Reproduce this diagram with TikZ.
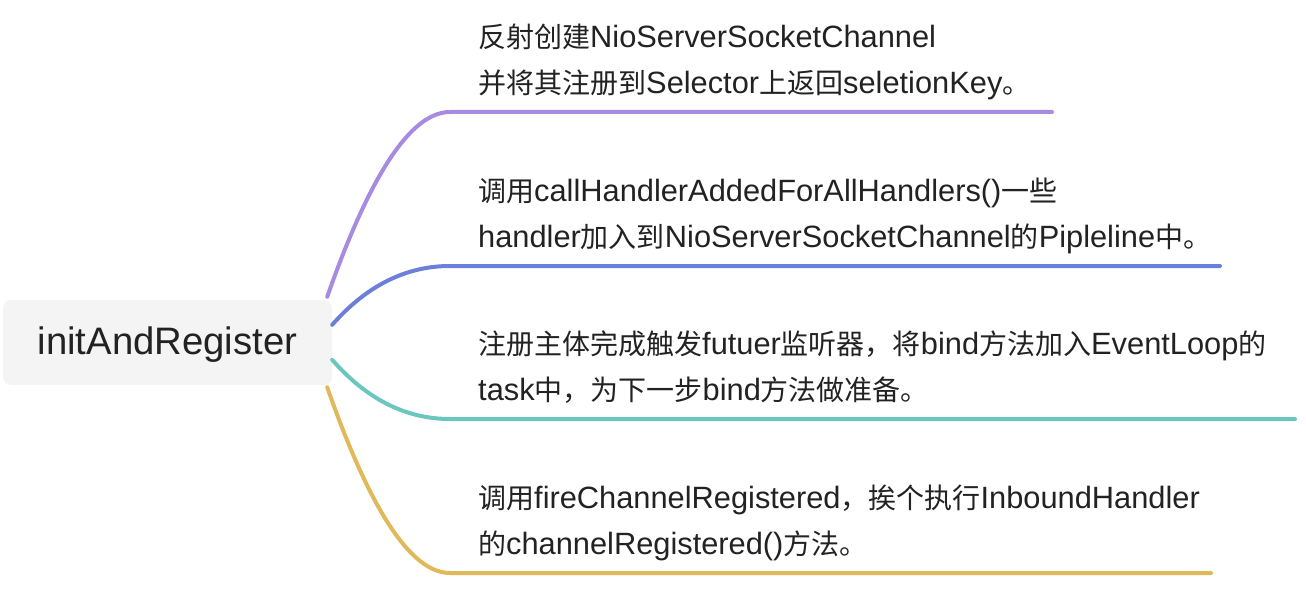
\documentclass[tikz,border=0pt]{standalone}
\usepackage{fontspec}
\setmainfont{Liberation Sans}[Scale=1.1]
\newfontfamily\cjk{Noto Sans CJK SC}
\usetikzlibrary{calc}
\definecolor{cpurple}{RGB}{167,139,224}
\definecolor{cblue}{RGB}{107,127,219}
\definecolor{cteal}{RGB}{108,198,192}
\definecolor{cgold}{RGB}{224,185,90}
\definecolor{rootfill}{RGB}{244,244,244}
\definecolor{txt}{RGB}{34,34,34}
\begin{document}
\begin{tikzpicture}[x=1pt,y=-1pt,
  rootbox/.style={fill=rootfill,rounded corners=8pt,minimum width=329pt,minimum height=85pt,inner sep=0pt},
  roottext/.style={font=\fontsize{34.8}{40}\selectfont,text=txt,inner sep=0pt},
  linetext/.style={font=\fontsize{28}{34}\selectfont,text=txt,inner sep=0pt,anchor=base west},
  branch/.style={line width=4pt,line cap=round}
]
\useasboundingbox (0,0) rectangle (1306,604);
\node[rootbox] (root) at (167.5,342.5) {};
\node[roottext,anchor=base] (roott) at (167.5,354) {initAndRegister};

% branch ends
\coordinate (e1) at (450,112);  \coordinate (f1) at (1052,112);
\coordinate (e2) at (450,266);  \coordinate (f2) at (1220,266);
\coordinate (e3) at (450,419);  \coordinate (f3) at (1295,419);
\coordinate (e4) at (450,573);  \coordinate (f4) at (1211,573);
% start points
\coordinate (s1) at ($(root.north east)+(-5,-3)$);
\coordinate (s2) at ($(root.north east)+(0,25)$);
\coordinate (s3) at ($(root.north east)+(0,60)$);
\coordinate (s4) at ($(root.south east)+(-5,2)$);
% quadratic control points
\coordinate (q1) at (392,112);
\coordinate (q2) at (384,266);
\coordinate (q3) at (384,419);
\coordinate (q4) at (392,573);

\foreach \i/\c in {1/cpurple,2/cblue,3/cteal,4/cgold}{
  \draw[branch,\c] (s\i) .. controls ($(s\i)!2/3!(q\i)$) and ($(e\i)!2/3!(q\i)$) .. (e\i) -- (f\i);
}

\node[linetext] (t1a) at (478,47.5) {{\cjk 反射创建}NioServerSocketChannel};
\node[linetext] (t1b) at (478,93.5) {{\cjk 并将其注册到}Selector{\cjk 上返回}seletionKey{\cjk 。}};
\node[linetext] (t2a) at (478,201.5) {{\cjk 调用}callHandlerAddedForAllHandlers(){\cjk 一些}};
\node[linetext] (t2b) at (478,247.5) {handler{\cjk 加入到}NioServerSocketChannel{\cjk 的}Pipleline{\cjk 中。}};
\node[linetext] (t3a) at (478,354.5) {{\cjk 注册主体完成触发}futuer{\cjk 监听器，将}bind{\cjk 方法加入}EventLoop{\cjk 的}};
\node[linetext] (t3b) at (478,400.5) {task{\cjk 中，为下一步}bind{\cjk 方法做准备。}};
\node[linetext] (t4a) at (478,508.5) {{\cjk 调用}fireChannelRegistered{\cjk ，挨个执行}InboundHandler};
\node[linetext] (t4b) at (478,554.5) {{\cjk 的}channelRegistered(){\cjk 方法。}};
\end{tikzpicture}
\end{document}
